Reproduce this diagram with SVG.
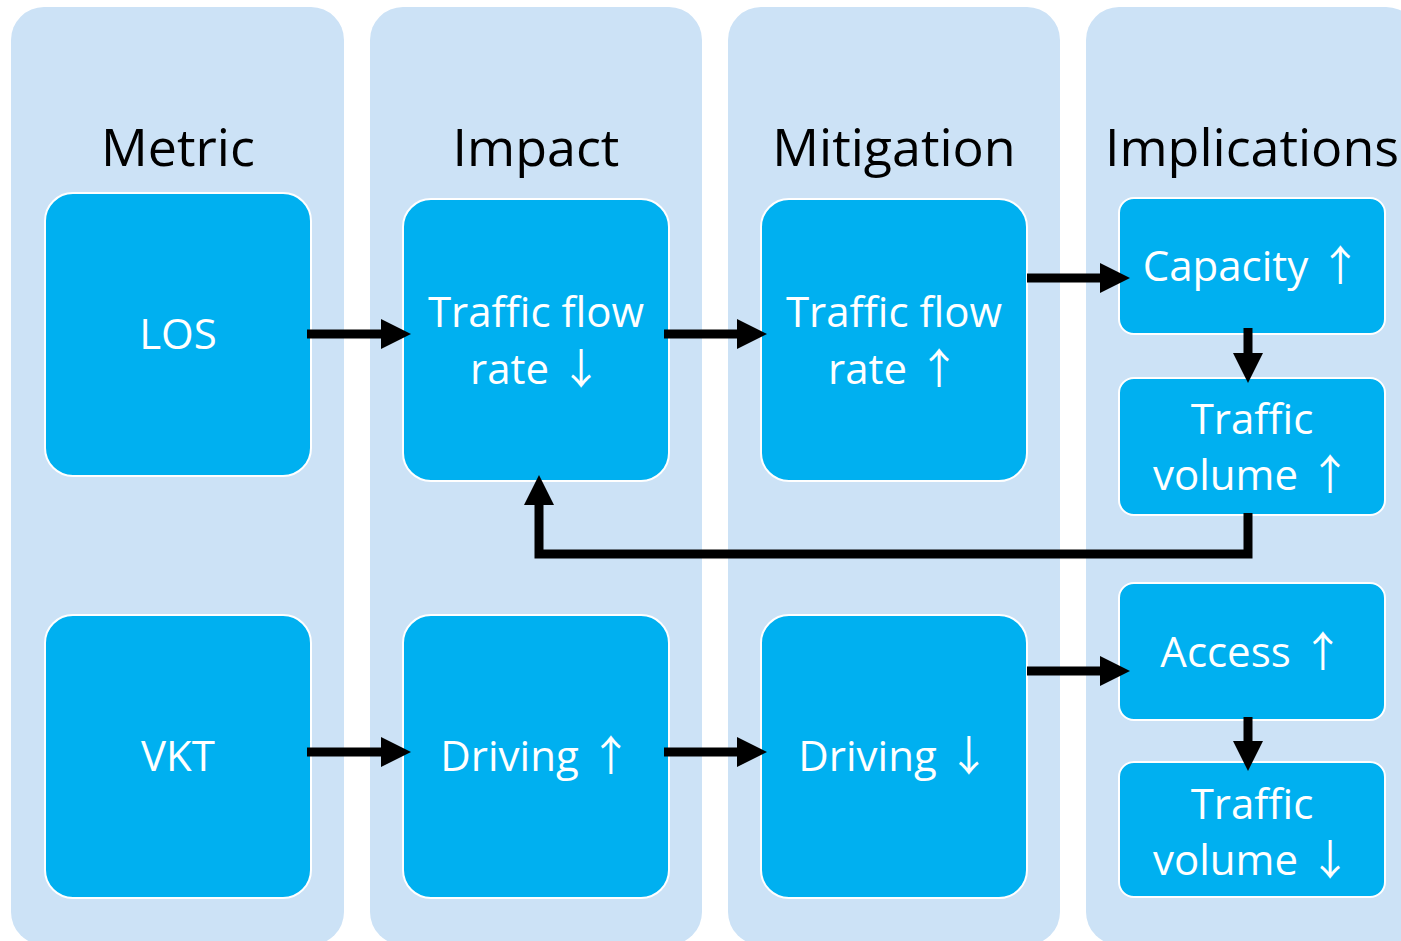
<svg xmlns="http://www.w3.org/2000/svg" width="1401" height="941" viewBox="0 0 1401 941">
<defs>
<style>
.col{fill:#CCE2F6}
.box{fill:#00B0F0;stroke:#FFFFFF;stroke-width:2}
.title{font-family:"Open Sans","Noto Sans","DejaVu Sans",sans-serif;font-size:52px;fill:#000;text-anchor:middle}
.lbl{font-family:"Open Sans","Noto Sans","DejaVu Sans",sans-serif;font-size:42px;fill:#FFF;text-anchor:middle}
.ar{font-family:"Noto Sans CJK SC","DejaVu Sans",sans-serif}
.con{fill:none;stroke:#000;stroke-width:9;stroke-linejoin:miter}
</style>
<marker id="ah" markerUnits="userSpaceOnUse" markerWidth="30" markerHeight="30" viewBox="0 0 30 30" refX="0" refY="15" orient="auto">
<path d="M0,0 L30,15 L0,30 z" fill="#000"/>
</marker>
</defs>
<rect width="1401" height="941" fill="#FFFFFF"/>
<g id="columns">
<rect class="col" x="11" y="7" width="333" height="938" rx="33"/>
<rect class="col" x="370" y="7" width="332" height="938" rx="33"/>
<rect class="col" x="728" y="7" width="332" height="938" rx="33"/>
<rect class="col" x="1086" y="7" width="333" height="938" rx="33"/>
<text class="title" x="178" y="166">Metric</text>
<text class="title" x="536" y="166">Impact</text>
<text class="title" x="894" y="166">Mitigation</text>
<text class="title" x="1252" y="166">Implications</text>
</g>
<g id="node-los"><rect class="box" x="45" y="193" width="266" height="283" rx="28"/><text class="lbl" x="178" y="349">LOS</text></g>
<g id="node-flow-down"><rect class="box" x="403" y="199" width="266" height="282" rx="28"/><text class="lbl" x="536" y="327">Traffic flow</text><text class="lbl" x="536" y="384">rate <tspan class="ar">↓</tspan></text></g>
<g id="node-flow-up"><rect class="box" x="761" y="199" width="266" height="282" rx="28"/><text class="lbl" x="894" y="327">Traffic flow</text><text class="lbl" x="894" y="384">rate <tspan class="ar">↑</tspan></text></g>
<g id="node-capacity"><rect class="box" x="1119" y="198" width="266" height="136" rx="15"/><text class="lbl" x="1252" y="281">Capacity <tspan class="ar">↑</tspan></text></g>
<g id="node-volume-up"><rect class="box" x="1119" y="378" width="266" height="137" rx="15"/><text class="lbl" x="1252" y="434">Traffic</text><text class="lbl" x="1252" y="490">volume <tspan class="ar">↑</tspan></text></g>
<g id="node-vkt"><rect class="box" x="45" y="615" width="266" height="283" rx="28"/><text class="lbl" x="178" y="771">VKT</text></g>
<g id="node-driving-up"><rect class="box" x="403" y="615" width="266" height="283" rx="28"/><text class="lbl" x="536" y="771">Driving <tspan class="ar">↑</tspan></text></g>
<g id="node-driving-down"><rect class="box" x="761" y="615" width="266" height="283" rx="28"/><text class="lbl" x="894" y="771">Driving <tspan class="ar">↓</tspan></text></g>
<g id="node-access"><rect class="box" x="1119" y="583" width="266" height="137" rx="15"/><text class="lbl" x="1252" y="667">Access <tspan class="ar">↑</tspan></text></g>
<g id="node-volume-down"><rect class="box" x="1119" y="762" width="266" height="135" rx="15"/><text class="lbl" x="1252" y="819">Traffic</text><text class="lbl" x="1252" y="875">volume <tspan class="ar">↓</tspan></text></g>
<g id="connectors">
<path class="con" d="M307,334 H381" marker-end="url(#ah)"/>
<path class="con" d="M664,334 H737" marker-end="url(#ah)"/>
<path class="con" d="M1027,278 H1100" marker-end="url(#ah)"/>
<path class="con" d="M1248,328 V353" marker-end="url(#ah)"/>
<path class="con" d="M1248,513 V554 H539 V505" marker-end="url(#ah)"/>
<path class="con" d="M307,752 H381" marker-end="url(#ah)"/>
<path class="con" d="M664,752 H737" marker-end="url(#ah)"/>
<path class="con" d="M1027,671 H1100" marker-end="url(#ah)"/>
<path class="con" d="M1248,717 V741" marker-end="url(#ah)"/>
</g>
</svg>
